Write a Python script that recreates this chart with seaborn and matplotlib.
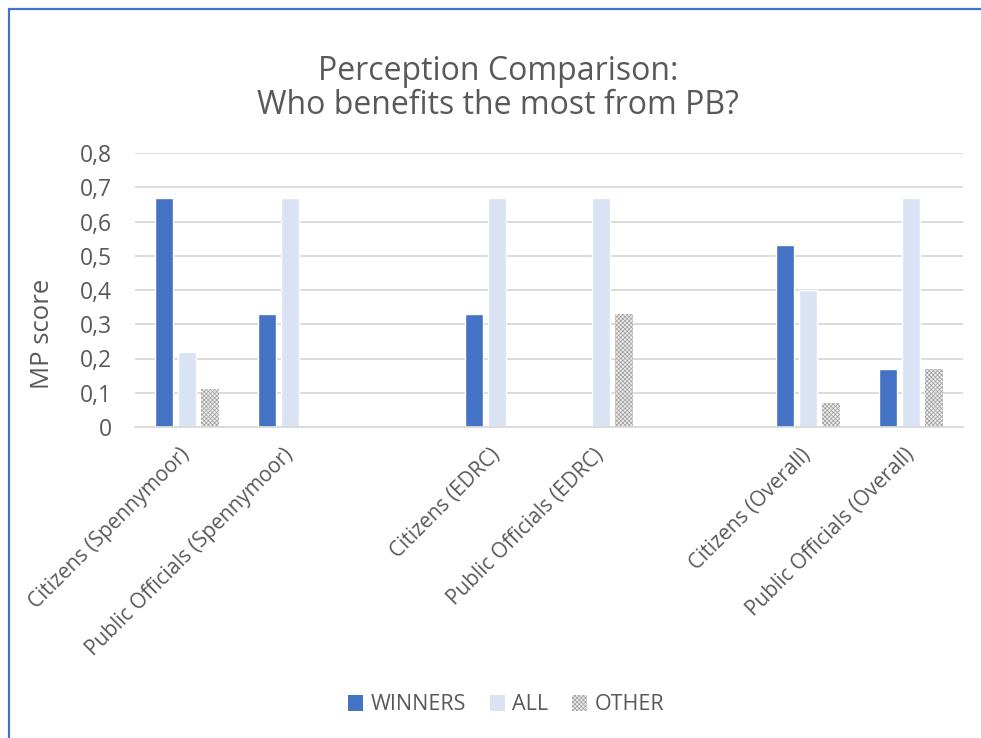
import matplotlib
matplotlib.use("Agg")
import matplotlib.pyplot as plt
from matplotlib.patches import Patch
from matplotlib.lines import Line2D
from matplotlib.ticker import FuncFormatter
import seaborn as sns
import pandas as pd
import numpy as np

# Groups (blank entries leave a gap between locations)
categories = [
    "Citizens (Spennymoor)", "Public Officials (Spennymoor)", " ",
    "Citizens (EDRC)", "Public Officials (EDRC)", "  ",
    "Citizens (Overall)", "Public Officials (Overall)",
]
series = ["WINNERS", "ALL", "OTHER"]
winners = [0.67, 0.33, np.nan, 0.33, 0.00, np.nan, 0.53, 0.17]
all_vals = [0.22, 0.67, np.nan, 0.67, 0.67, np.nan, 0.40, 0.67]
other = [0.11, 0.00, np.nan, 0.00, 0.33, np.nan, 0.07, 0.17]
y_ticks = [0, 0.1, 0.2, 0.3, 0.4, 0.5, 0.6, 0.7, 0.8]

colors = {"WINNERS": "#4472C4", "ALL": "#DAE3F3", "OTHER": "#D4D4D4"}
text_color = "#595959"
hatch_kw = dict(facecolor="#EBEBEB", hatch="xxxxxxxx", edgecolor="#A0A0A0", linewidth=0)

rows = []
for s, vals in zip(series, [winners, all_vals, other]):
    for c, v in zip(categories, vals):
        rows.append({"group": c, "series": s, "score": v})
df = pd.DataFrame(rows)

sns.set_theme(style="white")
plt.rcParams["font.family"] = ["Open Sans", "DejaVu Sans"]
plt.rcParams["hatch.linewidth"] = 0.5

fig = plt.figure(figsize=(9.81, 7.38), dpi=100)
ax = fig.add_axes([135 / 981, 1 - 427 / 738, 828 / 981, 274 / 738])

sns.barplot(
    data=df, x="group", y="score", hue="series", order=categories,
    hue_order=series, palette=colors, width=0.667, gap=0.22,
    saturation=1, legend=False, ax=ax, errorbar=None,
)

for patch in ax.containers[2]:
    patch.set_facecolor(hatch_kw["facecolor"])
    patch.set_hatch(hatch_kw["hatch"])
    patch.set_edgecolor(hatch_kw["edgecolor"])
    patch.set_linewidth(0)

ax.set_ylim(0, 0.8)
ax.set_xlim(-0.5, len(categories) - 0.5)
ax.set_yticks(y_ticks)
ax.yaxis.set_major_formatter(FuncFormatter(
    lambda v, _: "0" if abs(v) < 1e-9 else f"{v:.1f}".replace(".", ",")))
ax.grid(axis="y", color="#D9D9D9", linewidth=1.3)
ax.set_axisbelow(True)
for side in ["top", "right", "left"]:
    ax.spines[side].set_visible(False)
ax.spines["bottom"].set_color("#D9D9D9")
ax.spines["bottom"].set_linewidth(1.3)
ax.tick_params(axis="both", length=0, colors=text_color, labelsize=16.5)
ax.tick_params(axis="y", pad=16.5)
ax.set_xlabel("")
ax.set_ylabel("MP score", color=text_color, fontsize=18.5)
ax.yaxis.set_label_coords(-0.097, 0.34)

ax.set_xticks(range(len(categories)))
ax.set_xticklabels(categories, rotation=45, ha="right", va="center",
                   rotation_mode="anchor", color=text_color, fontsize=15)
ax.tick_params(axis="x", pad=18)

fig.text(0.508, 1 - 71 / 738, "Perception Comparison:", ha="center", va="center",
         color=text_color, fontsize=23)
fig.text(0.508, 1 - 105 / 738, "Who benefits the most from PB?", ha="center",
         va="center", color=text_color, fontsize=23)

handles = [
    Patch(facecolor=colors["WINNERS"], edgecolor="none", label="WINNERS"),
    Patch(facecolor=colors["ALL"], edgecolor="none", label="ALL"),
    Patch(label="OTHER", **hatch_kw),
]
fig.legend(handles=handles, loc="center", bbox_to_anchor=(506 / 981, 1 - 705 / 738),
           ncol=3, frameon=False, fontsize=15.5, handlelength=0.7,
           handleheight=0.7, handletextpad=0.35, columnspacing=1.1,
           labelcolor=text_color)

# Chart-area border along the left and top edges
fig.add_artist(Line2D([8.5 / 981, 8.5 / 981], [0, 1 - 8.5 / 738],
                      transform=fig.transFigure, color="#4472C4", linewidth=1.6))
fig.add_artist(Line2D([8.5 / 981, 1], [1 - 8.5 / 738, 1 - 8.5 / 738],
                      transform=fig.transFigure, color="#4472C4", linewidth=1.6))

fig.savefig("out.png", dpi=100)
